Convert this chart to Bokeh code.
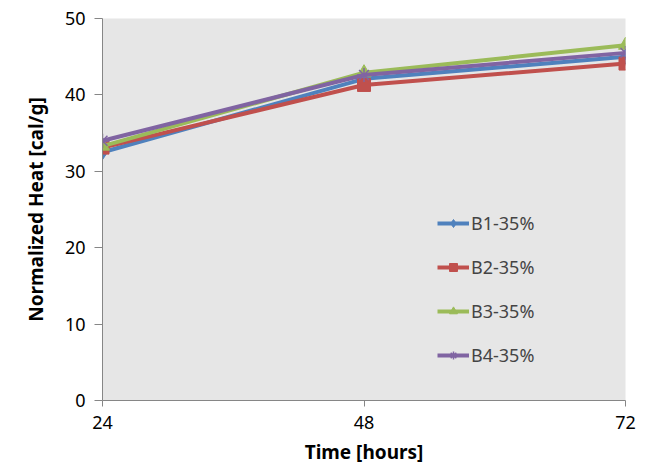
from bokeh.plotting import figure
from bokeh.embed import file_html
from bokeh.resources import INLINE
from bokeh.models import Legend, LegendItem, FixedTicker, Range1d

hours = [24, 48, 72]
b1 = [32.5, 42.1, 45.0]
b2 = [33.1, 41.3, 44.1]
b3 = [33.3, 42.9, 46.5]
b4 = [34.0, 42.6, 45.5]
series = [("B1-35%", b1, "#4F81BD", "diamond"),
          ("B2-35%", b2, "#C0504D", "square"),
          ("B3-35%", b3, "#9BBB59", "triangle"),
          ("B4-35%", b4, "#8064A2", "asterisk")]
y_ticks = [0, 10, 20, 30, 40, 50]

p = figure(width=641, height=467, output_backend="svg", toolbar_location=None,
           x_range=Range1d(24, 72), y_range=Range1d(0, 50),
           min_border_left=102, min_border_right=16, min_border_top=18, min_border_bottom=66)
p.background_fill_color = "#E6E6E6"
p.border_fill_color = "white"
p.outline_line_color = None
p.xgrid.grid_line_color = None
p.ygrid.grid_line_color = None

items = []
for name, ys, col, mk in series:
    r1 = p.line(hours, ys, line_color=col, line_width=4)
    if mk == "asterisk":
        r2 = p.scatter(hours, ys, marker=mk, size=14, line_color=col, line_width=1.5)
    elif mk == "triangle":
        r2 = p.scatter(hours, ys, marker=mk, size=14, fill_color=col, line_color=col)
    else:
        r2 = p.scatter(hours, ys, marker=mk, size=13 if mk == "square" else 15,
                       fill_color=col, line_color=col)
    items.append(LegendItem(label=name, renderers=[r1, r2]))

legend = Legend(items=items, location=(335, 33), padding=0, margin=0,
                background_fill_alpha=0, border_line_color=None,
                label_text_font="Noto Sans", label_text_font_size="18px",
                label_height=20, glyph_height=20, glyph_width=32, spacing=20,
                label_standoff=2)
p.add_layout(legend, "center")

for ax in (p.xaxis[0], p.yaxis[0]):
    ax.axis_line_color = "#868686"
    ax.major_tick_line_color = "#868686"
    ax.minor_tick_line_color = None
    ax.major_tick_in = 0
    ax.major_label_text_font = "Noto Sans"
    ax.major_label_text_font_size = "18px"
    ax.major_label_text_color = "black"
    ax.axis_label_text_font = "Noto Sans"
    ax.axis_label_text_font_style = "bold"
    ax.axis_label_text_font_size = "19px"
    ax.axis_label_text_color = "black"

p.xaxis.major_tick_out = 6
p.yaxis.major_tick_out = 8
p.xaxis.ticker = FixedTicker(ticks=hours)
p.yaxis.ticker = FixedTicker(ticks=y_ticks)
p.xaxis.axis_label = "Time [hours]"
p.yaxis.axis_label = "Normalized Heat [cal/g]"
p.xaxis.major_label_standoff = 9
p.yaxis.major_label_standoff = 9
p.xaxis.axis_label_standoff = 7
p.yaxis.axis_label_standoff = 13

open("out.html", "w").write(file_html(p, INLINE))
